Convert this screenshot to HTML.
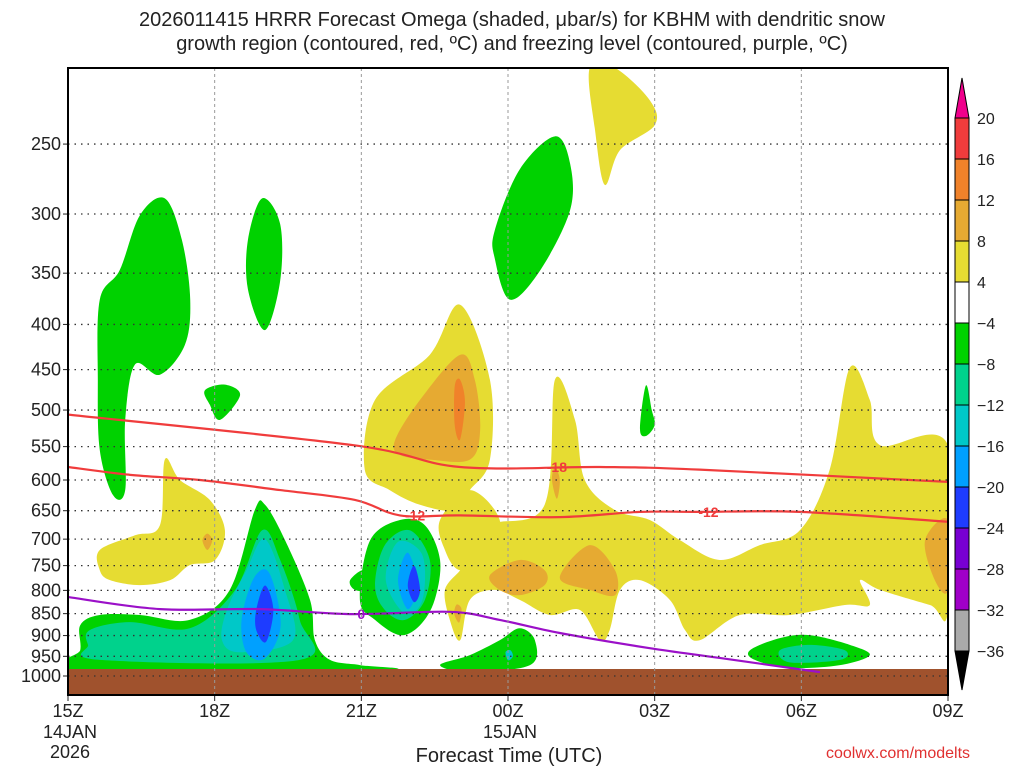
<!DOCTYPE html>
<html><head><meta charset="utf-8"><style>
body{margin:0;background:#fff;width:1024px;height:768px;overflow:hidden;font-family:"Liberation Sans",sans-serif}
svg text{font-family:"Liberation Sans",sans-serif;fill:#222}
</style></head><body>
<svg id="c" width="1024" height="768"></svg>
<script>
const pressureTicks=[250,300,350,400,450,500,550,600,650,700,750,800,850,900,950,1000];
const timeTicks=["15Z","18Z","21Z","00Z","03Z","06Z","09Z"];
const cbLevels=[20,16,12,8,4,-4,-8,-12,-16,-20,-24,-28,-32,-36];
const cbColors=["#f03c3c","#f0822a","#e6aa32","#e6dc32","#ffffff","#00d200","#00d28c","#00c8c8","#00a0ff","#1e3cff","#7800d2","#a000c8","#aaaaaa"];
const yellowRegions=[
[[0.65,720],[1.37,693],[1.88,675],[1.98,569],[2.29,600],[2.9,632],[3.21,684],[3.01,739],[2.49,749],[2.09,779],[1.47,789],[0.86,779],[0.65,759]],
[[6.07,584],[6.28,487],[7.4,433],[8.02,380],[8.63,462],[8.63,569],[8.22,616],[7.91,649],[7.2,640],[6.58,616]],
[[10.67,205],[11.19,205],[11.9,223],[12.0,238],[11.29,254],[10.98,278],[10.78,241]],
[[8.12,739],[8.63,675],[9.75,640],[9.96,462],[10.37,513],[10.57,600],[11.19,649],[11.9,666],[12.52,702],[13.33,739],[14.15,711],[14.97,684],[15.58,584],[15.99,448],[16.4,487],[16.61,548],[18,548],[18,842],[17.63,831],[16.61,799],[16.2,779],[16.4,831],[15.89,831],[14.76,853],[13.74,853],[12.92,911],[12.62,887],[12.31,820],[11.7,779],[11.29,799],[11.08,887],[10.88,911],[10.47,842],[9.86,853],[9.24,820],[8.73,799],[8.22,820],[8.02,911],[7.81,864],[7.71,799],[8.02,759]],
[[7.61,666],[8.22,616],[8.83,666],[8.63,739],[8.02,759],[7.71,720]]];
const orangeRegions=[
[[6.69,541],[7.2,487],[8.02,433],[8.32,462],[8.43,527],[8.22,569],[7.4,569],[6.79,562]],
[[8.63,769],[9.24,739],[9.75,759],[9.75,789],[9.24,810],[8.83,799]],
[[10.06,774],[10.67,711],[11.19,759],[11.19,810],[10.67,799]],
[[17.53,702],[18,666],[18,799],[17.73,779]],
[[9.96,580],[10.06,600],[10.0,630],[9.9,600]],
[[2.85,690],[2.95,702],[2.85,720],[2.75,702]],
[[7.95,830],[8.05,840],[8.0,870],[7.9,850]]];
const darkOrangeRegions=[[[7.91,470],[8.02,462],[8.12,490],[8.02,540],[7.91,520]]];
const greenRegions=[
[[0.65,375],[1.06,347],[1.47,301],[1.98,288],[2.33,321],[2.5,375],[2.39,422],[1.88,456],[1.37,444],[1.17,513],[1.17,616],[0.92,624],[0.65,555],[0.61,462]],
[[3.68,321],[3.97,288],[4.34,308],[4.34,357],[4.03,406],[3.68,365]],
[[2.8,475],[3.21,468],[3.52,481],[3.11,513],[2.9,493]],
[[8.73,313],[9.24,267],[9.96,245],[10.27,263],[10.27,297],[9.65,348],[9.04,375],[8.73,337]],
[[0.25,876],[0.65,853],[1.47,853],[2.49,864],[3.31,799],[3.82,649],[4.03,640],[4.44,702],[4.95,820],[5.05,911],[5.36,959],[5.97,972],[6.38,984],[0.04,990],[0.25,935]],
[[5.97,820],[6.18,702],[6.79,666],[7.3,675],[7.61,739],[7.5,820],[7.2,876],[6.79,899],[6.28,864]],
[[5.77,779],[6.07,759],[6.22,799],[5.87,799]],
[[7.61,972],[8.22,947],[8.83,911],[9.24,883],[9.55,911],[9.45,972],[8.22,990]],
[[13.95,935],[14.56,906],[15.17,899],[15.99,922],[16.4,947],[15.79,972],[14.76,979],[14.05,959]],
[[11.7,525],[11.82,469],[11.94,500],[12.0,520],[11.82,535]]];
const tealRegions=[
[[0.45,887],[1.27,869],[2.49,883],[3.42,799],[3.97,684],[4.34,739],[4.74,864],[4.74,959],[0.65,959],[0.41,922]],
[[6.28,789],[6.48,711],[6.99,684],[7.4,739],[7.3,820],[6.89,864],[6.48,842]],
[[14.56,935],[15.17,922],[15.89,935],[15.79,959],[14.76,965]]];
const cyanRegions=[
[[3.25,842],[3.65,759],[4.03,700],[4.44,800],[4.6,911],[3.52,940],[3.15,911]],
[[6.5,779],[6.75,705],[7.25,730],[7.25,820],[6.89,850]],
[[8.95,940],[9.05,935],[9.1,950],[9.0,960]]];
const blueRegions=[
[[3.55,864],[3.8,775],[4.12,765],[4.35,876],[4.03,955],[3.65,940]],
[[6.75,779],[6.95,725],[7.15,789],[6.95,840]]];
const darkBlueRegions=[
[[3.85,842],[4.03,790],[4.2,842],[4.05,915],[3.85,887]],
[[6.95,789],[7.08,750],[7.2,799],[7.08,825]]];
const dgzUpper=[[0,506],[5.84,548],[8.02,580],[10.88,580],[12.92,584],[18,603]];
const dgzLower=[[0,580],[1.27,592],[2.7,600],[4.34,616],[5.87,632],[6.79,658],[8.02,658],[10.06,661],[11.7,652],[12.92,652],[14.97,652],[18,669]];
const freezing=[[0,814],[1.88,840],[3.93,840],[5.77,851],[7.81,846],[8.83,864],[10.06,894],[11.9,930],[13.33,954],[15.38,990]];

const L=68,R=948,T=68,B=695;
const X=h=>L+h*(R-L)/18;
const Y=p=>676+383.7*Math.log(p/1000);
const NS="http://www.w3.org/2000/svg";
const svg=document.getElementById('c');
function mk(t,a,parent){const e=document.createElementNS(NS,t);for(const k in a)e.setAttribute(k,a[k]);(parent||svg).appendChild(e);return e;}
const clip=mk('clipPath',{id:'pc'});mk('rect',{x:L,y:T,width:R-L,height:B-T},clip);
const g=mk('g',{'clip-path':'url(#pc)'});
function smooth(pts,closed){const n=pts.length;let d='M'+pts[0][0]+','+pts[0][1];
const get=i=>closed?pts[(i+n)%n]:pts[Math.max(0,Math.min(n-1,i))];
const m=closed?n:n-1;
for(let i=0;i<m;i++){const p0=get(i-1),p1=get(i),p2=get(i+1),p3=get(i+2);
const c1=[p1[0]+(p2[0]-p0[0])/6,p1[1]+(p2[1]-p0[1])/6],c2=[p2[0]-(p3[0]-p1[0])/6,p2[1]-(p3[1]-p1[1])/6];
d+=` C${c1[0]},${c1[1]} ${c2[0]},${c2[1]} ${p2[0]},${p2[1]}`;}
return d+(closed?'Z':'');}
function regions(list,color,name){list.forEach(poly=>{const e=mk('path',{d:smooth(poly.map(q=>[X(q[0]),Y(q[1])]),true),fill:color},g);

});}
regions(yellowRegions,cbColors[3],'omega-region-4-8');
regions(orangeRegions,cbColors[2],'omega-region-8-12');
regions(darkOrangeRegions,cbColors[1],'omega-region-12-16');
regions(greenRegions,cbColors[5],'omega-region-neg4-8');
regions(tealRegions,cbColors[6],'omega-region-neg8-12');
regions(cyanRegions,cbColors[7],'omega-region-neg12-16');
regions(blueRegions,cbColors[8],'omega-region-neg16-20');
regions(darkBlueRegions,cbColors[9],'omega-region-neg20-24');
const gr=mk('rect',{x:L,y:669,width:R-L,height:B-669,fill:'#a0522d'},g);


pressureTicks.forEach(p=>{const y=Y(p);mk('line',{x1:L,x2:R,y1:y,y2:y,stroke:'#333','stroke-dasharray':'1.5,5','stroke-width':1.3});
mk('line',{x1:L-5,x2:L,y1:y,y2:y,stroke:'#222'});
const t=mk('text',{x:L-7,y:y+6,'text-anchor':'end','font-size':18});t.textContent=p;

});
timeTicks.forEach((s,i)=>{const x=X(i*3);mk('line',{x1:x,x2:x,y1:T,y2:B,stroke:'#999','stroke-dasharray':'3,3'});
mk('line',{x1:x,x2:x,y1:B,y2:B+6,stroke:'#222'});
const t=mk('text',{x:x,y:B+22,'text-anchor':'middle','font-size':18});t.textContent=s;

});
function line(pts,color,name){const e=mk('path',{d:smooth(pts.map(q=>[X(q[0]),Y(q[1])]),false),fill:'none',stroke:color,'stroke-width':2.2},g);

}
line(dgzUpper,'#f03c3c','dgz-minus18-line');
line(dgzLower,'#f03c3c','dgz-minus12-line');
line(freezing,'#9b10c8','freezing-level-line');
function lab(h,p,s,c){const x=X(h),y=Y(p);
const t=mk('text',{x:x,y:y+5,'text-anchor':'middle','font-size':14,'font-weight':'bold'},g);t.style.fill=c;t.textContent=s;

}
lab(10.0,580,'-18','#f03c3c');lab(7.1,658,'-12','#f03c3c');lab(13.1,652,'-12','#f03c3c');lab(6.0,851,'0','#9b10c8');
mk('rect',{x:L,y:T,width:R-L,height:B-T,fill:'none',stroke:'#000','stroke-width':2});
const cx=955,cw=14;
cbColors.forEach((c,i)=>{mk('rect',{x:cx,y:118+41*i,width:cw,height:41,fill:c,stroke:'#000','stroke-width':1});});
mk('polygon',{points:`${cx},118 ${cx+cw},118 ${cx+cw/2},78`,fill:'#f0008c',stroke:'#000'});
mk('polygon',{points:`${cx},651 ${cx+cw},651 ${cx+cw/2},690`,fill:'#000',stroke:'#000'});
cbLevels.forEach((v,i)=>{const t=mk('text',{x:977,y:124+41*i,'font-size':16});t.textContent=v<0?'\u2212'+(-v):v;

});
</script>
<div style="position:absolute;left:0;top:8px;width:1024px;text-align:center;font-size:20px;line-height:24px;color:#222">2026011415 HRRR Forecast Omega (shaded, μbar/s) for KBHM with dendritic snow<br>growth region (contoured, red, ºC) and freezing level (contoured, purple, ºC)</div>
<div style="position:absolute;left:40px;top:722px;width:60px;text-align:center;font-size:18px;line-height:20px;color:#222">14JAN<br>2026</div>
<div style="position:absolute;left:480px;top:722px;width:60px;text-align:center;font-size:18px;color:#222">15JAN</div>
<div style="position:absolute;left:0;top:745px;width:1018px;text-align:center;font-size:20px;color:#222">Forecast Time (UTC)</div>
<div style="position:absolute;left:826px;top:745px;font-size:16px;color:#e03030">coolwx.com/modelts</div>
</body></html>
